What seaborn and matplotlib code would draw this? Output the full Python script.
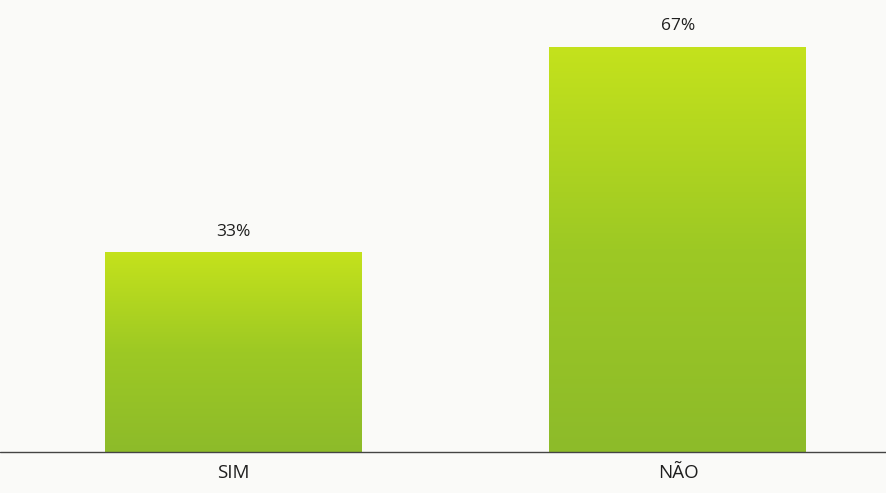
import numpy as np
import matplotlib
matplotlib.use("Agg")
import matplotlib.pyplot as plt
import seaborn as sns
import pandas as pd
from matplotlib.colors import LinearSegmentedColormap

categories = ["SIM", "NÃO"]
values = [33, 67]
value_labels = ["33%", "67%"]

sns.set_theme(style="white")
plt.rcParams['font.family'] = ['Open Sans', 'DejaVu Sans']

bg = "#fafaf8"
fig = plt.figure(figsize=(8.86, 4.93), dpi=100, facecolor=bg)
ax = fig.add_axes([0, 41 / 493, 1, 1 - 41 / 493])
ax.set_facecolor(bg)

df = pd.DataFrame({"cat": categories, "val": values})
sns.barplot(data=df, x="cat", y="val", ax=ax, color="#a6d01e",
            width=0.578, saturation=1, linewidth=0)

cmap = LinearSegmentedColormap.from_list("g", ["#8dbb2a", "#9dc924", "#c4e21c"])
grad = np.linspace(0, 1, 256).reshape(-1, 1)
for p in ax.patches:
    x0, y0 = p.get_x(), p.get_y()
    w, h = p.get_width(), p.get_height()
    im = ax.imshow(grad, cmap=cmap, origin="lower", aspect="auto",
                   extent=[x0, x0 + w, y0, y0 + h], zorder=p.get_zorder() + 0.1)
    im.set_clip_path(p)

for p, lab in zip(ax.patches, value_labels):
    ax.annotate(lab, (p.get_x() + p.get_width() / 2, p.get_height()),
                xytext=(0, 14.5), textcoords="offset points",
                ha="center", va="center", fontsize=12.5, color="#1e1e1e")

ax.set_xlim(-0.525, 1.468)
ax.set_ylim(0, 74.7)
ax.axhline(0, color="#444444", lw=1.0, zorder=5, clip_on=False)
for s in ax.spines.values():
    s.set_visible(False)
ax.set_yticks([])
ax.set_xlabel("")
ax.set_ylabel("")
ax.tick_params(axis="x", length=0, pad=9, labelsize=13.5, labelcolor="#1e1e1e")

fig.savefig("out.png", dpi=100, facecolor=bg)
